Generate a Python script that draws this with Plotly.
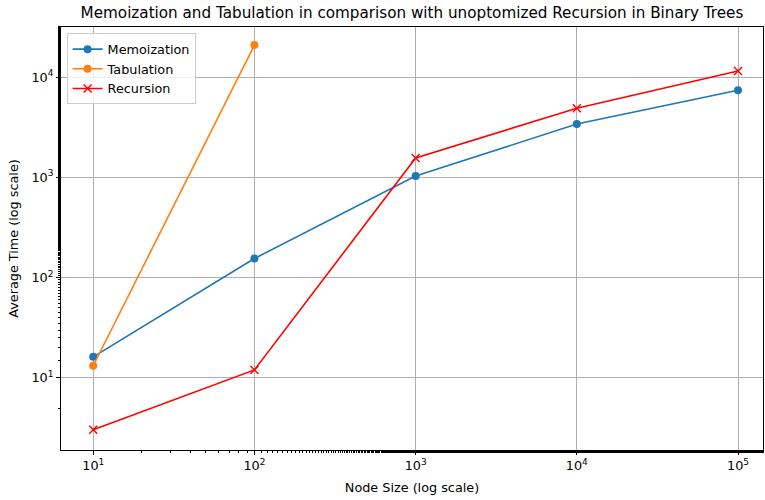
import plotly.graph_objects as go

node_sizes = [10, 100, 1000, 10000, 100000]
memo_times = [16.2, 155, 1030, 3400, 7400]
tab_sizes = [10, 100]
tab_times = [13.2, 20900]
rec_times = [3.03, 12.0, 1560, 4900, 11500]

x_tickvals = [10, 100, 1000, 10000, 100000]
x_ticktext = ["10<sup>1</sup>", "10<sup>2</sup>", "10<sup>3</sup>", "10<sup>4</sup>", "10<sup>5</sup>"]
y_tickvals = [10, 100, 1000, 10000]
y_ticktext = ["10<sup>1</sup>", "10<sup>2</sup>", "10<sup>3</sup>", "10<sup>4</sup>"]

fig = go.Figure()
fig.add_trace(go.Scatter(x=node_sizes, y=memo_times, mode="lines+markers", name="Memoization",
                         line=dict(color="#1f77b4", width=1.6), marker=dict(symbol="circle", size=8, color="#1f77b4")))
fig.add_trace(go.Scatter(x=tab_sizes, y=tab_times, mode="lines+markers", name="Tabulation",
                         line=dict(color="#ff7f0e", width=1.6), marker=dict(symbol="circle", size=8, color="#ff7f0e")))
fig.add_trace(go.Scatter(x=node_sizes, y=rec_times, mode="lines+markers", name="Recursion",
                         line=dict(color="red", width=1.6), marker=dict(symbol="x-thin", size=8, line=dict(color="red", width=1.4), color="red")))

font = "DejaVu Sans"
fs = 12.8
axis_common = dict(type="log", showline=True, linecolor="black", linewidth=1, mirror=True,
                   ticks="outside", ticklen=4, tickcolor="black", gridcolor="#b0b0b0", gridwidth=0.8,
                   zeroline=False, automargin=False,
                   minor=dict(ticks="outside", ticklen=2, tickcolor="black", showgrid=False),
                   tickfont=dict(family=font, size=fs, color="black"))
fig.update_xaxes(**axis_common, range=[0.80, 5.155], tickvals=x_tickvals, ticktext=x_ticktext,
                 title=dict(text="Node Size (log scale)", font=dict(family=font, size=fs, color="black"), standoff=10))
fig.update_yaxes(**axis_common, range=[0.28, 4.5], tickvals=y_tickvals, ticktext=y_ticktext,
                 title=dict(text="Average Time (log scale)", font=dict(family=font, size=fs, color="black"), standoff=9))

fig.update_layout(
    width=765, height=500,
    margin=dict(l=61, r=2, t=27, b=50, autoexpand=False),
    paper_bgcolor="white", plot_bgcolor="white",
    title=dict(text="Memoization and Tabulation in comparison with unoptomized Recursion in Binary Trees",
               x=(61 + (765 - 2 - 61) / 2) / 765, xref="container", xanchor="center", y=0.975, yref="container", yanchor="middle",
               font=dict(family=font, size=15.2, color="black")),
    legend=dict(x=0.008, y=0.985, xanchor="left", yanchor="top", bordercolor="#cccccc", borderwidth=1,
                bgcolor="rgba(255,255,255,0.8)", font=dict(family=font, size=fs, color="black"),
                tracegroupgap=0, itemwidth=30),
    showlegend=True,
)

fig.write_html("out.html", post_script="document.body.style.margin='0';",
               config={"displayModeBar": False})
